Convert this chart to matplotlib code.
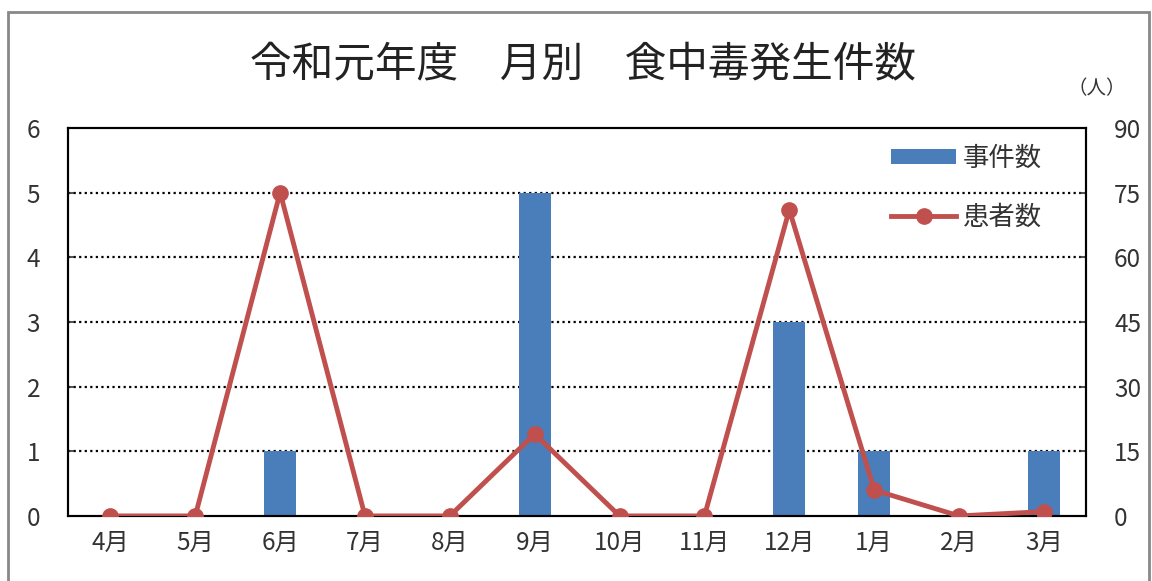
import matplotlib
matplotlib.use("Agg")
import matplotlib.pyplot as plt
from matplotlib.patches import Rectangle
import numpy as np

plt.rcParams['font.family'] = ['Noto Sans CJK JP', 'DejaVu Sans']

#chart data
months = ['4月', '5月', '6月', '7月', '8月', '9月', '10月', '11月', '12月', '1月', '2月', '3月']
cases = [0, 0, 1, 0, 0, 5, 0, 0, 3, 1, 0, 1]
patients = [0, 0, 75, 0, 0, 19, 0, 0, 71, 6, 0, 1]

blue = '#4A7EBB'
red = '#C0504D'


def main():
    fig = plt.figure(figsize=(11.52, 5.81), dpi=100)
    ax = fig.add_axes([0.059, 0.112, 0.884, 0.668])
    ax2 = ax.twinx()

    x = np.arange(len(months))
    ax.bar(x, cases, width=0.38, color=blue, label='事件数', zorder=2)
    ax2.plot(x, patients, color=red, lw=3.5, marker='o', ms=11, label='患者数', zorder=3)

    ax.set_xlim(-0.5, len(months) - 0.5)
    ax.set_ylim(0, 6)
    ax2.set_ylim(0, 90)
    ax.set_yticks(range(0, 7))
    ax2.set_yticks(range(0, 91, 15))
    ax.set_xticks(x)
    ax.set_xticklabels(months)

    #dotted grid lines
    for v in range(1, 6):
        ax.axhline(v, color='black', ls=(0, (1, 1.5)), lw=1.6, zorder=1)

    for a in (ax, ax2):
        for s in a.spines.values():
            s.set_linewidth(1.5)
        a.tick_params(labelsize=17.5, colors='#333333', length=4, width=1.2, direction='in')
    ax.tick_params(axis='x', length=0, pad=10)
    ax.tick_params(axis='y', pad=20)
    ax2.tick_params(axis='y', pad=20)
    ax.set_zorder(ax2.get_zorder() - 1)
    ax2.patch.set_visible(False)

    fig.text(0.506, 0.888, '令和元年度　月別　食中毒発生件数', ha='center', va='center',
             fontsize=30, color='#222222')
    fig.text(0.927, 0.848, '（人）', ha='left', va='center', fontsize=14, color='#333333')

    h1, l1 = ax.get_legend_handles_labels()
    h2, l2 = ax2.get_legend_handles_labels()
    ax2.legend(h1 + h2, l1 + l2, loc='upper right', bbox_to_anchor=(0.98, 1.018),
               frameon=False, fontsize=19, handlelength=2.5, handleheight=0.5,
               handletextpad=0.25, labelspacing=1.2, labelcolor='#333333')

    #outer gray frame
    fig.patches.append(Rectangle((0.007, -0.05), 0.99, 1.03, transform=fig.transFigure,
                                 fill=False, edgecolor='#888888', lw=2))

    fig.savefig('out.png', dpi=100)


if __name__ == '__main__':
    main()
